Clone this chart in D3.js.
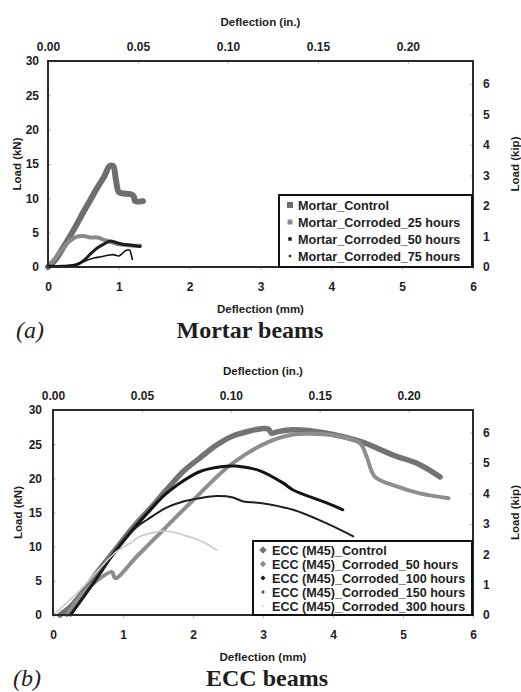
<!DOCTYPE html>
<html>
<head>
<meta charset="utf-8">
<script src="https://cdn.jsdelivr.net/npm/d3@7"></script>
<style>
  body { margin: 0; background: #fff; }
  svg { display: block; }
  text { font-family: "Liberation Sans", Arial, sans-serif; font-weight: bold; fill: #1e1e1e; }
  .serif { font-family: "Liberation Serif", "Times New Roman", serif; }
</style>
</head>
<body>
<svg id="chart" width="521" height="692"></svg>
<script>
// tick labels
const mmTicks = [0, 1, 2, 3, 4, 5, 6];
const inTicks = [0, 0.05, 0.1, 0.15, 0.2];
const kNTicks = [0, 5, 10, 15, 20, 25, 30];
const kipTicks = [0, 1, 2, 3, 4, 5, 6];

// (a) mortar beams, [deflection mm, load kN]
const mortarNames = ["Mortar_Control", "Mortar_Corroded_25 hours", "Mortar_Corroded_50 hours", "Mortar_Corroded_75 hours"];
const mortarControl = [[0,0],[0.1,1.0],[0.2,2.6],[0.3,4.3],[0.4,6.1],[0.5,8.0],[0.6,9.8],[0.7,11.6],[0.8,13.3],[0.87,14.7],[0.92,14.7],[0.96,12.6],[1.0,10.9],[1.06,10.7],[1.17,10.6],[1.21,10.3],[1.23,9.6],[1.34,9.6]];
const mortar25 = [[0,0],[0.1,1.2],[0.2,2.6],[0.3,3.7],[0.4,4.4],[0.5,4.5],[0.6,4.3],[0.7,4.3],[0.8,3.9],[0.9,3.6],[1.0,3.3],[1.1,3.2],[1.2,3.1],[1.3,3.1]];
const mortar50 = [[0,0.1],[0.2,0.1],[0.4,0.3],[0.5,0.9],[0.6,1.9],[0.7,2.8],[0.8,3.4],[0.88,3.8],[0.95,3.6],[1.05,3.3],[1.15,3.2],[1.3,3.0]];
const mortar75 = [[0,0.2],[0.3,0.2],[0.45,0.6],[0.55,1.0],[0.65,1.3],[0.75,1.5],[0.85,1.7],[0.92,1.8],[1.0,1.6],[1.05,2.0],[1.1,2.4],[1.15,2.5],[1.17,2.0],[1.19,1.1]];

// (b) ECC beams
const eccNames = ["ECC (M45)_Control", "ECC (M45)_Corroded_50 hours", "ECC (M45)_Corroded_100 hours", "ECC (M45)_Corroded_150 hours", "ECC (M45)_Corroded_300 hours"];
const eccControl = [[0.1,0],[0.25,1.2],[0.43,3.4],[0.6,5.8],[0.91,9.8],[1.15,12.9],[1.39,15.6],[1.62,18.3],[1.86,21.0],[2.1,23.0],[2.34,24.9],[2.57,26.2],[2.8,26.9],[3.0,27.3],[3.08,27.2],[3.12,26.6],[3.2,26.8],[3.43,27.1],[3.91,26.6],[4.39,25.4],[4.86,23.4],[5.24,22.0],[5.53,20.2]];
const ecc50 = [[0.2,0],[0.43,3.2],[0.6,4.8],[0.84,6.3],[0.89,5.4],[1.2,8.6],[1.6,12.7],[2.0,16.8],[2.48,21.5],[2.75,23.5],[3.05,25.2],[3.43,26.4],[3.91,26.4],[4.2,25.9],[4.39,25.1],[4.48,23.2],[4.6,20.2],[4.86,19.0],[5.24,17.8],[5.65,17.1]];
const ecc100 = [[0.25,0],[0.6,5.0],[0.91,9.6],[1.39,15.4],[1.6,17.6],[1.77,19.0],[2.1,21.0],[2.4,21.7],[2.6,21.8],[2.81,21.5],[2.96,21.1],[3.29,19.3],[3.43,18.3],[3.91,16.4],[4.14,15.4]];
const ecc150 = [[0.25,0],[0.6,5.0],[0.91,9.6],[1.2,12.9],[1.34,13.9],[1.6,15.6],[1.86,16.6],[2.1,17.1],[2.34,17.4],[2.57,17.2],[2.72,16.6],[2.96,16.4],[3.43,15.4],[3.91,13.4],[4.29,11.5]];
const ecc300 = [[0,0],[0.2,1.8],[0.43,4.1],[0.65,6.6],[0.91,9.3],[1.1,10.5],[1.24,11.5],[1.45,12.1],[1.58,12.3],[1.72,12.1],[1.86,11.7],[2.1,10.9],[2.34,9.5]];

const KN_PER_KIP = 4.448;
const MM_PER_IN = 25.4;

const svg = d3.select("#chart");

function drawPanel(p) {
  const x = d3.scaleLinear().domain([0, 6]).range([p.left, p.right]);
  const y = d3.scaleLinear().domain([0, 30]).range([p.bottom, p.top]);
  const xIn = d3.scaleLinear().domain([0, 6 / MM_PER_IN]).range([p.left, p.right]);
  const yKip = d3.scaleLinear().domain([0, 30 / KN_PER_KIP]).range([p.bottom, p.top]);
  const g = svg.append("g");

  const tickStyle = (a) => {
    a.select(".domain").remove();
    a.selectAll(".tick line").attr("stroke", "#bbb");
    a.selectAll(".tick text").attr("fill", "#1e1e1e").style("font-size", "12px")
      .style("font-family", '"Liberation Sans", Arial, sans-serif').style("font-weight", "bold");
  };

  g.append("g").attr("transform", `translate(0,${p.bottom})`)
    .call(d3.axisBottom(x).tickValues(mmTicks).tickSize(3).tickPadding(12).tickFormat(d3.format("d")))
    .call(tickStyle);
  g.append("g").attr("transform", `translate(0,${p.top})`)
    .call(d3.axisTop(xIn).tickValues(inTicks).tickSize(-3).tickPadding(10).tickFormat(d3.format(".2f")))
    .call(tickStyle);
  g.append("g").attr("transform", `translate(${p.left},0)`)
    .call(d3.axisLeft(y).tickValues(kNTicks).tickSize(-3).tickPadding(p.padL).tickFormat(d3.format("d")))
    .call(tickStyle);
  g.append("g").attr("transform", `translate(${p.right},0)`)
    .call(d3.axisRight(yKip).tickValues(kipTicks).tickSize(-3).tickPadding(10).tickFormat(d3.format("d")))
    .call(tickStyle);

  const line = d3.line().x(d => x(d[0])).y(d => y(d[1])).curve(d3.curveCatmullRom.alpha(0.5));
  p.series.forEach(s => {
    g.append("path").datum(s.data).attr("d", line)
      .attr("fill", "none").attr("stroke", s.color).attr("stroke-width", s.width)
      .attr("stroke-linejoin", "round").attr("stroke-linecap", "round");
  });

  // plot frame
  g.append("rect").attr("x", p.left).attr("y", p.top)
    .attr("width", p.right - p.left).attr("height", p.bottom - p.top)
    .attr("fill", "none").attr("stroke", "#2a2a2a").attr("stroke-width", 2);

  // legend
  const lg = g.append("g");
  lg.append("rect").attr("x", p.legX).attr("y", p.legY)
    .attr("width", p.right - 1 - p.legX).attr("height", p.bottom - p.legY)
    .attr("fill", "#fff").attr("stroke", "#111").attr("stroke-width", 2);
  p.series.forEach((s, i) => {
    const cy = p.legY + p.legFirst + i * p.legStep;
    if (p.marker === "square") {
      lg.append("rect").attr("x", p.legX + 11 - s.mk / 2).attr("y", cy - s.mk / 2)
        .attr("width", s.mk).attr("height", s.mk).attr("fill", s.mkColor);
    } else {
      lg.append("path").attr("transform", `translate(${p.legX + 10},${cy})`)
        .attr("d", d3.symbol(d3.symbolDiamond2, s.mk * s.mk)()).attr("fill", s.mkColor);
    }
    lg.append("text").attr("x", p.legX + p.legText).attr("y", cy + 4.5)
      .style("font-size", "12.6px").text(s.name);
  });

  // axis titles
  const cx = (p.left + p.right) / 2, cyMid = (p.top + p.bottom) / 2;
  g.append("text").attr("x", cx).attr("y", p.top - 35).attr("text-anchor", "middle")
    .style("font-size", "11.5px").text("Deflection (in.)");
  g.append("text").attr("x", cx).attr("y", p.bottom + 46).attr("text-anchor", "middle")
    .style("font-size", "11.5px").text("Deflection (mm)");
  g.append("text").attr("transform", `translate(${p.kNx},${cyMid}) rotate(-90)`)
    .attr("text-anchor", "middle").style("font-size", "11.5px").text("Load (kN)");
  g.append("text").attr("transform", `translate(519,${cyMid}) rotate(-90)`)
    .attr("text-anchor", "middle").style("font-size", "11.5px").text("Load (kip)");

  // panel caption
  g.append("text").attr("class", "serif").attr("x", p.capX).attr("y", p.capY)
    .style("font-size", "24px").style("font-style", "italic").style("font-weight", "normal")
    .text(p.tag);
  g.append("text").attr("class", "serif").attr("x", p.titleX).attr("y", p.capY)
    .attr("text-anchor", "middle").style("font-size", "24px").text(p.title);
}

drawPanel({
  left: 48, right: 473, top: 61, bottom: 267, padL: 9, kNx: 21,
  legX: 279, legY: 195, legFirst: 10, legStep: 17, legText: 19, marker: "square",
  capX: 16, capY: 338, titleX: 250, tag: "(a)", title: "Mortar beams",
  series: [
    { name: mortarNames[0], data: mortarControl, color: "#6e6e6e", width: 6, mk: 6, mkColor: "#6e6e6e" },
    { name: mortarNames[1], data: mortar25, color: "#8a8a8a", width: 4, mk: 5, mkColor: "#8a8a8a" },
    { name: mortarNames[2], data: mortar50, color: "#1c1c1c", width: 3, mk: 3.5, mkColor: "#1c1c1c" },
    { name: mortarNames[3], data: mortar75, color: "#111", width: 1.6, mk: 2.5, mkColor: "#333" }
  ]
});

drawPanel({
  left: 53, right: 473, top: 410, bottom: 615, padL: 11, kNx: 22,
  legX: 253, legY: 541, legFirst: 9, legStep: 14, legText: 19, marker: "diamond",
  capX: 13, capY: 686, titleX: 267, tag: "(b)", title: "ECC beams",
  series: [
    { name: eccNames[0], data: eccControl, color: "#737373", width: 5.5, mk: 6, mkColor: "#737373" },
    { name: eccNames[1], data: ecc50, color: "#8e8e8e", width: 4, mk: 5, mkColor: "#8e8e8e" },
    { name: eccNames[2], data: ecc100, color: "#141414", width: 3, mk: 4, mkColor: "#141414" },
    { name: eccNames[3], data: ecc150, color: "#1e1e1e", width: 2, mk: 3, mkColor: "#555" },
    { name: eccNames[4], data: ecc300, color: "#cacaca", width: 1.6, mk: 2.5, mkColor: "#ddd" }
  ]
});
</script>
</body>
</html>
